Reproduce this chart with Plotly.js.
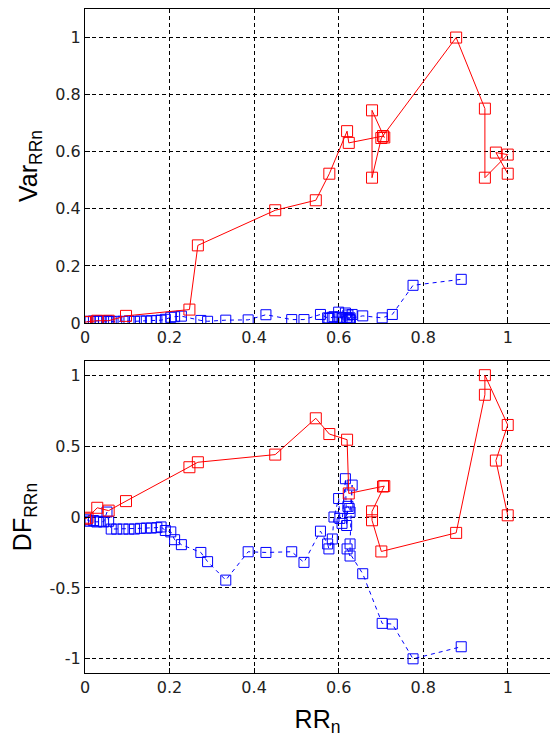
<!DOCTYPE html>
<html>
<head>
<meta charset="utf-8">
<script src="https://cdn.plot.ly/plotly-3.0.1.min.js"></script>
<style>html,body{margin:0;padding:0;background:#fff;}#chart{width:550px;height:748px;}</style>
</head>
<body>
<div id="chart"></div>
<script>
// Red series (RR_n, Var_RRn, DF_RRn)
const rrRed  = [0.000, 0.006, 0.029, 0.056, 0.097, 0.247, 0.267, 0.450, 0.546, 0.578, 0.620, 0.624, 0.705, 0.708, 0.679, 0.679, 0.701, 0.878, 0.946, 0.946, 1.000, 0.972, 1.000];
const varRed = [0.003, 0.004, 0.008, 0.008, 0.025, 0.047, 0.272, 0.395, 0.430, 0.523, 0.672, 0.631, 0.655, 0.650, 0.745, 0.509, 0.648, 1.000, 0.751, 0.509, 0.590, 0.597, 0.523];
const dfRed  = [-0.012, -0.005, 0.065, 0.045, 0.112, 0.351, 0.386, 0.440, 0.696, 0.585, 0.545, 0.166, 0.215, 0.218, 0.040, -0.023, -0.243, -0.112, 0.862, 1.000, 0.649, 0.398, 0.012];

// Blue series (RR_n, Var_RRn, DF_RRn)
const rrBlue  = [0.005, 0.012, 0.020, 0.028, 0.036, 0.044, 0.052, 0.056, 0.062, 0.075, 0.090, 0.104, 0.117, 0.131, 0.145, 0.157, 0.170, 0.180, 0.190, 0.203, 0.212, 0.228, 0.274, 0.290, 0.333, 0.386, 0.428, 0.489, 0.518, 0.557, 0.574, 0.577, 0.585, 0.589, 0.600, 0.603, 0.608, 0.616, 0.619, 0.622, 0.625, 0.627, 0.632, 0.627, 0.627, 0.620, 0.657, 0.703, 0.727, 0.776, 0.890];
const varBlue = [0.005, 0.006, 0.007, 0.006, 0.008, 0.007, 0.008, 0.006, 0.005, 0.006, 0.006, 0.007, 0.006, 0.007, 0.007, 0.008, 0.009, 0.010, 0.013, 0.020, 0.022, 0.024, 0.009, 0.006, 0.010, 0.011, 0.029, 0.012, 0.012, 0.030, 0.018, 0.016, 0.020, 0.022, 0.038, 0.020, 0.018, 0.035, 0.020, 0.028, 0.015, 0.012, 0.030, 0.018, 0.010, 0.014, 0.025, 0.018, 0.030, 0.132, 0.153];
const dfBlue  = [-0.020, -0.030, -0.025, -0.035, -0.030, -0.035, 0.035, -0.030, -0.085, -0.085, -0.085, -0.085, -0.085, -0.080, -0.078, -0.078, -0.075, -0.070, -0.095, -0.105, -0.160, -0.195, -0.250, -0.315, -0.445, -0.245, -0.250, -0.245, -0.320, -0.100, -0.190, -0.225, -0.155, 0.000, 0.130, -0.010, -0.045, 0.270, -0.060, 0.075, 0.060, 0.035, 0.225, -0.190, -0.275, -0.225, -0.400, -0.750, -0.755, -1.000, -0.915];

const xTicks = [0, 0.2, 0.4, 0.6, 0.8, 1];
const xTickText = ['0', '0.2', '0.4', '0.6', '0.8', '1'];
const yTopTicks = [0, 0.2, 0.4, 0.6, 0.8, 1];
const yTopTickText = ['0', '0.2', '0.4', '0.6', '0.8', '1'];
const yBotTicks = [-1, -0.5, 0, 0.5, 1];
const yBotTickText = ['-1', '-0.5', '0', '0.5', '1'];

const RED = '#ff0000', BLUE = '#0000ff';
const FONT = 'Arial, "Liberation Sans", sans-serif';
const TICKFONT = '"DejaVu Sans", Verdana, sans-serif';

function blueTrace(y, xa, ya) {
  return {x: rrBlue, y: y, xaxis: xa, yaxis: ya, type: 'scatter', mode: 'lines+markers',
    line: {color: BLUE, width: 1, dash: '4px,4px'},
    marker: {symbol: 'square-open', size: 10, color: BLUE, line: {color: BLUE, width: 1}},
    hoverinfo: 'skip', showlegend: false};
}
function redTrace(y, xa, ya) {
  return {x: rrRed, y: y, xaxis: xa, yaxis: ya, type: 'scatter', mode: 'lines+markers',
    line: {color: RED, width: 1},
    marker: {symbol: 'square-open', size: 11, color: RED, line: {color: RED, width: 1}},
    hoverinfo: 'skip', showlegend: false};
}

const data = [
  blueTrace(varBlue, 'x', 'y'),
  redTrace(varRed, 'x', 'y'),
  blueTrace(dfBlue, 'x2', 'y2'),
  redTrace(dfRed, 'x2', 'y2')
];

const axCommon = {
  showline: true, mirror: true, linecolor: '#000', linewidth: 1,
  showgrid: true, gridcolor: '#000', gridwidth: 1, griddash: '4px,3px',
  zeroline: false, ticks: 'inside', ticklen: 5, tickcolor: '#000',
  tickfont: {family: TICKFONT, size: 16, color: '#222'}, fixedrange: true
};

const layout = {
  width: 550, height: 748,
  margin: {l: 85, r: 0, t: 0, b: 0},
  paper_bgcolor: '#fff', plot_bgcolor: '#fff',
  font: {family: FONT, color: '#000'},
  xaxis: Object.assign({}, axCommon, {domain: [0, 1], range: [0, 1.1], tickvals: xTicks, ticktext: xTickText, anchor: 'y'}),
  yaxis: Object.assign({}, axCommon, {domain: [1 - 323/748, 1 - 9/748], range: [0, 1.1], tickvals: yTopTicks, ticktext: yTopTickText, anchor: 'x',
    title: {text: 'Var<sub>RRn</sub>', font: {family: FONT, size: 25, color: '#000'}, standoff: 10}}),
  xaxis2: Object.assign({}, axCommon, {domain: [0, 1], range: [0, 1.1], tickvals: xTicks, ticktext: xTickText, anchor: 'y2',
    title: {text: 'RR<sub>n</sub>', font: {family: FONT, size: 25, color: '#000'}, standoff: 14}}),
  yaxis2: Object.assign({}, axCommon, {domain: [1 - 673/748, 1 - 361/748], range: [-1.1, 1.1], tickvals: yBotTicks, ticktext: yBotTickText, anchor: 'x2',
    title: {text: 'DF<sub>RRn</sub>', font: {family: FONT, size: 25, color: '#000'}, standoff: 10}})
};

Plotly.newPlot('chart', data, layout, {staticPlot: true, displayModeBar: false});
</script>
</body>
</html>
